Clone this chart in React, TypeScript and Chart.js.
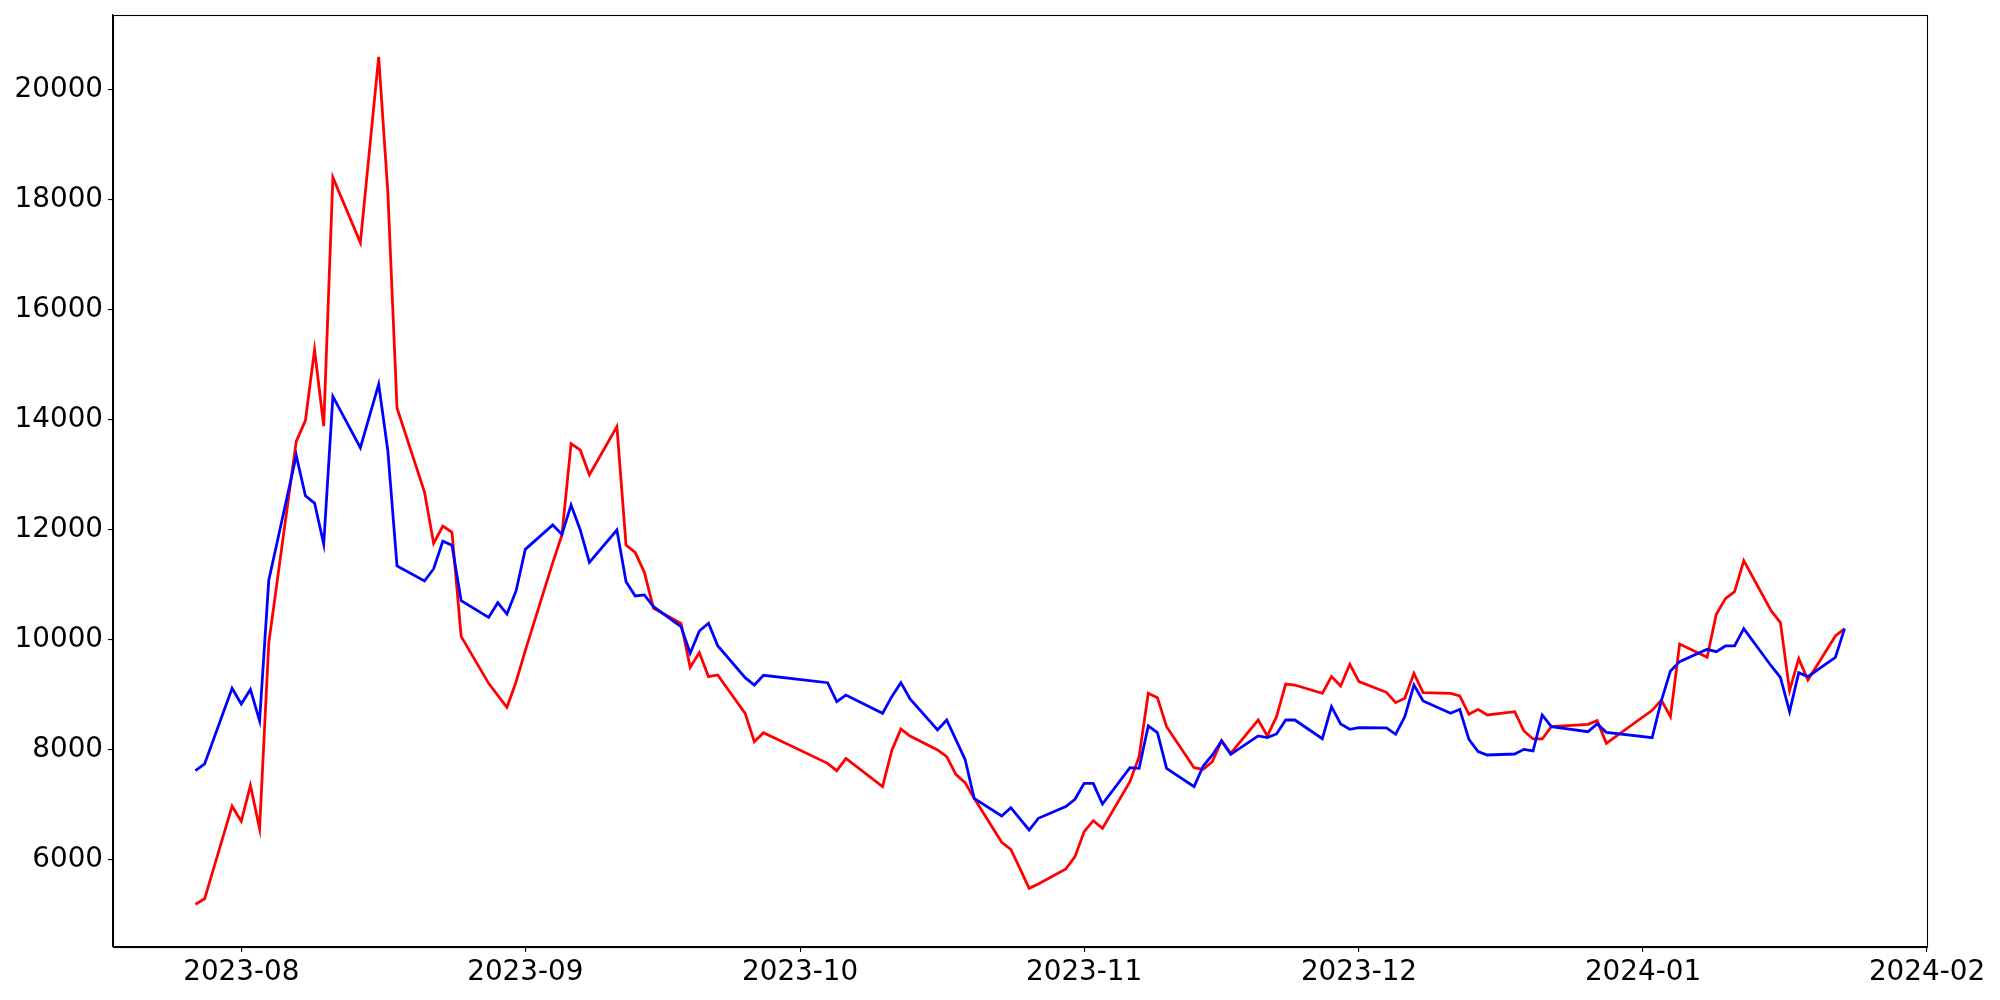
import React, { useEffect, useRef } from "react";
import { Chart, registerables } from "chart.js";

Chart.register(...registerables);

const dates: string[] = [
  "2023-07-27", "2023-07-28", "2023-07-31",
  "2023-08-01", "2023-08-02", "2023-08-03", "2023-08-04",
  "2023-08-07", "2023-08-08", "2023-08-09", "2023-08-10", "2023-08-11",
  "2023-08-14", "2023-08-16", "2023-08-17", "2023-08-18",
  "2023-08-21", "2023-08-22", "2023-08-23", "2023-08-24", "2023-08-25",
  "2023-08-28", "2023-08-29", "2023-08-30", "2023-08-31", "2023-09-01",
  "2023-09-04", "2023-09-05", "2023-09-06", "2023-09-07", "2023-09-08",
  "2023-09-11", "2023-09-12", "2023-09-13", "2023-09-14", "2023-09-15",
  "2023-09-18", "2023-09-19", "2023-09-20", "2023-09-21", "2023-09-22",
  "2023-09-25", "2023-09-26", "2023-09-27",
  "2023-10-04", "2023-10-05", "2023-10-06",
  "2023-10-10", "2023-10-11", "2023-10-12", "2023-10-13",
  "2023-10-16", "2023-10-17", "2023-10-18", "2023-10-19", "2023-10-20",
  "2023-10-23", "2023-10-24", "2023-10-25", "2023-10-26", "2023-10-27",
  "2023-10-30", "2023-10-31", "2023-11-01", "2023-11-02", "2023-11-03",
  "2023-11-06", "2023-11-07", "2023-11-08", "2023-11-09", "2023-11-10",
  "2023-11-13", "2023-11-14", "2023-11-15", "2023-11-16", "2023-11-17",
  "2023-11-20", "2023-11-21", "2023-11-22", "2023-11-23", "2023-11-24",
  "2023-11-27", "2023-11-28", "2023-11-29", "2023-11-30", "2023-12-01",
  "2023-12-04", "2023-12-05", "2023-12-06", "2023-12-07", "2023-12-08",
  "2023-12-11", "2023-12-12", "2023-12-13", "2023-12-14", "2023-12-15",
  "2023-12-18", "2023-12-19", "2023-12-20", "2023-12-21", "2023-12-22",
  "2023-12-26", "2023-12-27", "2023-12-28",
  "2024-01-02", "2024-01-03", "2024-01-04", "2024-01-05",
  "2024-01-08", "2024-01-09", "2024-01-10", "2024-01-11", "2024-01-12",
  "2024-01-15", "2024-01-16", "2024-01-17", "2024-01-18", "2024-01-19",
  "2024-01-22", "2024-01-23",
];

const blueValues: number[] = [
  7620, 7740, 9115,
  8829, 9095, 8523, 11073,
  13348, 12614, 12481, 11736, 14419,
  13487, 14643, 13427, 11340,
  11064, 11288, 11787, 11713, 10707,
  10404, 10671, 10465, 10889, 11640,
  12082, 11912, 12446, 11992, 11404,
  11992, 11053, 10793, 10811, 10599,
  10235, 9751, 10156, 10296, 9890,
  9309, 9175, 9351,
  9217, 8872, 8993,
  8660, 8963, 9217, 8920,
  8358, 8539, 8182, 7825, 7116,
  6795, 6946, 6740, 6540, 6753,
  6965, 7098, 7389, 7388, 7012,
  7673, 7661, 8430, 8309, 7661,
  7328, 7703, 7903, 8158, 7915,
  8249, 8218, 8285, 8539, 8539,
  8200, 8782, 8467, 8370, 8400,
  8394, 8279, 8600, 9175, 8885,
  8661, 8733, 8188, 7964, 7903,
  7921, 8006, 7976, 8630, 8418,
  8327, 8467, 8315,
  8218, 8888, 9430, 9600,
  9824, 9781, 9884, 9884, 10199,
  9521, 9315, 8691, 9400, 9327,
  9678, 10199,
];

const redValues: number[] = [
  5190, 5290, 6973,
  6698, 7350, 6565, 9931,
  13603, 13980, 15266, 13878, 18400,
  17215, 20590, 18124, 14210,
  12682, 11750, 12063, 11951, 10058,
  9205, 8987, 8769, 9235, 9800,
  11400, 11900, 13560, 13445, 12991,
  13869, 11719, 11586, 11223, 10568,
  10296, 9496, 9763, 9327, 9357,
  8660, 8146, 8309,
  7751, 7618, 7842,
  7327, 7981, 8375, 8248,
  7994, 7873, 7552, 7401, 7116,
  6316, 6189, 5838, 5481, 5559,
  5832, 6056, 6510, 6709, 6570,
  7419, 7873, 9024, 8945, 8418,
  7673, 7643, 7782, 8164, 7934,
  8539, 8249, 8600, 9193, 9175,
  9024, 9327, 9157, 9551, 9236,
  9042, 8854, 8933, 9387, 9036,
  9024, 8976, 8643, 8733, 8630,
  8691, 8339, 8194, 8194, 8418,
  8461, 8527, 8115,
  8715, 8900, 8600, 9920,
  9678, 10460, 10744, 10871, 11435,
  10520, 10308, 9073, 9654, 9266,
  10066, 10199,
];

const xTickDates: string[] = [
  "2023-08-01", "2023-09-01", "2023-10-01", "2023-11-01",
  "2023-12-01", "2024-01-01", "2024-02-01",
];
const xTickLabels: string[] = [
  "2023-08", "2023-09", "2023-10", "2023-11", "2023-12", "2024-01", "2024-02",
];
const yTickValues: number[] = [6000, 8000, 10000, 12000, 14000, 16000, 18000, 20000];

const X_MIN_DATE = "2023-07-18";
const X_MAX_DATE = "2024-02-01";
const Y_MIN = 4414;
const Y_MAX = 21350;

const EPOCH = Date.UTC(2023, 7, 1);
function dayNum(s: string): number {
  const [y, m, d] = s.split("-").map(Number);
  return (Date.UTC(y, m - 1, d) - EPOCH) / 86400000;
}

const FONT = { family: "'DejaVu Sans', sans-serif", size: 27.8 };

export default function App() {
  const ref = useRef<HTMLCanvasElement | null>(null);

  useEffect(() => {
    if (!ref.current) return;
    const xs = dates.map(dayNum);
    const tickDays = xTickDates.map(dayNum);

    const framePlugin = {
      id: "frame",
      afterDraw(chart: any) {
        const { ctx, chartArea } = chart;
        ctx.save();
        ctx.strokeStyle = "#000";
        ctx.lineWidth = 1.1;
        ctx.strokeRect(
          Math.round(chartArea.left) + 0.5,
          Math.round(chartArea.top) + 0.5,
          Math.round(chartArea.right - chartArea.left),
          Math.round(chartArea.bottom - chartArea.top)
        );
        ctx.restore();
      },
    };

    const chart = new Chart(ref.current, {
      type: "line",
      data: {
        datasets: [
          {
            label: "blue",
            data: xs.map((x, i) => ({ x, y: blueValues[i] })),
            borderColor: "#0000ff",
            backgroundColor: "#0000ff",
            borderWidth: 2.78,
            pointRadius: 0,
            tension: 0,
            fill: false,
          },
          {
            label: "red",
            data: xs.map((x, i) => ({ x, y: redValues[i] })),
            borderColor: "#ff0000",
            backgroundColor: "#ff0000",
            borderWidth: 2.78,
            pointRadius: 0,
            tension: 0,
            fill: false,
          },
        ],
      },
      options: {
        responsive: false,
        animation: false,
        devicePixelRatio: 1,
        layout: { padding: { top: 15, right: 73, bottom: 0, left: 0 } },
        plugins: {
          legend: { display: false },
          tooltip: { enabled: false },
        },
        scales: {
          x: {
            type: "linear",
            min: dayNum(X_MIN_DATE),
            max: dayNum(X_MAX_DATE),
            afterBuildTicks: (scale: any) => {
              scale.ticks = tickDays.map((v) => ({ value: v }));
            },
            afterFit: (scale: any) => {
              scale.height = 53;
              scale.paddingLeft = 0;
              scale.paddingRight = 0;
            },
            ticks: {
              autoSkip: false,
              maxRotation: 0,
              minRotation: 0,
              color: "#000",
              font: FONT,
              padding: 4,
              callback: (v: any) => {
                const i = tickDays.indexOf(Number(v));
                return i >= 0 ? xTickLabels[i] : "";
              },
            },
            grid: {
              display: true,
              drawOnChartArea: false,
              drawTicks: true,
              tickLength: 5,
              color: "#000",
              lineWidth: 1.1,
            },
            border: { display: true, color: "#000", width: 1.1 },
          },
          y: {
            type: "linear",
            min: Y_MIN,
            max: Y_MAX,
            afterBuildTicks: (scale: any) => {
              scale.ticks = yTickValues.map((v) => ({ value: v }));
            },
            afterFit: (scale: any) => {
              scale.width = 113;
              scale.paddingTop = 0;
              scale.paddingBottom = 0;
            },
            ticks: {
              color: "#000",
              font: FONT,
              padding: 5,
              callback: (v: any) => String(v),
            },
            grid: {
              display: true,
              drawOnChartArea: false,
              drawTicks: true,
              tickLength: 5,
              color: "#000",
              lineWidth: 1.1,
            },
            border: { display: true, color: "#000", width: 1.1 },
          },
        },
      },
      plugins: [framePlugin],
    } as any);

    return () => chart.destroy();
  }, []);

  return (
    <div
      style={{
        position: "absolute",
        left: 0,
        top: 0,
        width: 2000,
        height: 1000,
        background: "#fff",
      }}
    >
      <canvas ref={ref} width={2000} height={1000} style={{ width: 2000, height: 1000 }} />
    </div>
  );
}
